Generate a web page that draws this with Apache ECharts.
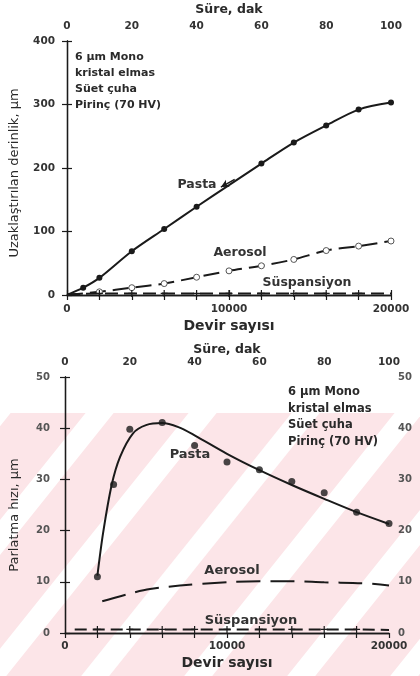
<!DOCTYPE html>
<html><head><meta charset="utf-8">
<script src="https://cdn.jsdelivr.net/npm/echarts@6/dist/echarts.min.js"></script>
<style>
html,body{margin:0;padding:0;background:#fff;}
#bg{position:absolute;left:0;top:0;}
#chart{position:absolute;left:0;top:0;width:420px;height:676px;}
</style>
</head><body>
<canvas id="bg" width="420" height="676"></canvas>
<div id="chart"></div>
<script>
// ---------- DATA ----------
// Top chart: removed depth (µm) vs. revolutions
const depthPasta   = [[0,0],[1000,11.5],[2000,27],[4000,69],[6000,104],[8000,139],[10000,173],[12000,207],[14000,240],[16000,267],[18000,292],[20000,303]];
const depthAerosol = [[0,0],[2000,5],[4000,11.5],[6000,18],[8000,28],[10000,38],[12000,46],[14000,56],[16000,70],[18000,77],[20000,85]];
const depthSusp    = [[0,1],[2000,2.5],[4000,2.5],[6000,2.5],[8000,2.5],[10000,2.5],[12000,2.5],[14000,2.5],[16000,2.5],[18000,2.5],[20000,2.5]];
// Bottom chart: polishing rate (µm) vs. revolutions
const ratePastaPts   = [[2000,11],[3000,29],[4000,39.8],[6000,41.1],[8000,36.6],[10000,33.4],[12000,31.9],[14000,29.6],[16000,27.4],[18000,23.6],[20000,21.4]];
const ratePastaCurve = [[2000,11.2],[2350,19.5],[2880,28.9],[3400,34.4],[4200,39],[5000,40.6],[6000,41],[7000,40.2],[8000,38.6],[10000,35],[12000,31.8],[14000,28.9],[16000,26.2],[18000,23.6],[20000,21.3]];
const rateAerosol    = [[2300,6.2],[4000,7.7],[5250,8.6],[8500,9.6],[12000,10.1],[14000,10.1],[16000,9.9],[18600,9.7],[20000,9.3]];
const rateSusp       = [[600,0.7],[2000,0.7],[4000,0.7],[6000,0.7],[8000,0.7],[10000,0.7],[12000,0.7],[14000,0.7],[16000,0.7],[18000,0.7],[20000,0.6]];
// Axis ticks / labels
const revTicks = [0, 10000, 20000];
const timeTicks = [0, 20, 40, 60, 80, 100];
const depthTicks = [0, 100, 200, 300, 400];
const rateTicks = [0, 10, 20, 30, 40, 50];
const noteLines = ['6 µm Mono', 'kristal elmas', 'Süet çuha', 'Pirinç (70 HV)'];

// ---------- background stripes (scan watermark) ----------
(function(){
  const c = document.getElementById('bg').getContext('2d');
  const y0 = 413, y1 = 676;
  c.fillStyle = '#fce5e8';
  c.fillRect(0, y0, 420, y1 - y0);
  c.fillStyle = '#ffffff';
  const slope = 0.8, period = 103, w = 28, refX = 150, refY = 590;
  for (let k = -6; k < 10; k++) {
    const xa = refX + k*period;
    const xt = xa + slope*(refY - y0);
    const xb = xa - slope*(y1 - refY);
    c.beginPath();
    c.moveTo(xt, y0); c.lineTo(xt + w, y0); c.lineTo(xb + w, y1); c.lineTo(xb, y1); c.closePath();
    c.fill();
  }
})();

// ---------- CHART ----------
const FONT = 'DejaVu Sans';
const ink = '#1a1a1a';
const txt = '#2a2a2a';
const chart = echarts.init(document.getElementById('chart'), null, {renderer:'canvas'});

const axLine = {show:true, lineStyle:{color:ink, width:1.3}};
const tickIn = {show:true, inside:true, length:5, lineStyle:{color:ink, width:1.2}};
const lbl = (extra) => Object.assign({fontFamily:FONT, fontWeight:'bold', fontSize:10.5, color:'#333'}, extra||{});

function plusSymbol(){ return 'path://M5,0L5,10M0,5L10,5'; }

const option = {
  animation:false,
  backgroundColor:'transparent',
  grid:[
    {left:67, top:41, width:324, height:254},
    {left:65, top:377, width:324, height:256}
  ],
  xAxis:[
    {gridIndex:0, type:'value', position:'bottom', min:0, max:20000, interval:10000,
     axisLine:axLine, axisTick:tickIn, splitLine:{show:false},
     axisLabel:lbl({margin:9, formatter:v=>revTicks.includes(v)?String(v):''}),
     name:'Devir sayısı', nameLocation:'middle', nameGap:24,
     nameTextStyle:{fontFamily:FONT, fontWeight:'bold', fontSize:14, color:txt}},
    {gridIndex:0, type:'value', position:'top', min:0, max:100, interval:10,
     axisLine:axLine, axisTick:tickIn, splitLine:{show:false},
     axisLabel:lbl({margin:9, formatter:v=>timeTicks.includes(v)?String(v):''}),
     name:'Süre, dak', nameLocation:'middle', nameGap:25,
     nameTextStyle:{fontFamily:FONT, fontWeight:'bold', fontSize:12.5, color:txt}},
    {gridIndex:1, type:'value', position:'bottom', min:0, max:20000, interval:10000,
     axisLine:axLine, axisTick:{show:false}, splitLine:{show:false},
     axisLabel:lbl({margin:8, formatter:v=>revTicks.includes(v)?String(v):''}),
     name:'Devir sayısı', nameLocation:'middle', nameGap:23,
     nameTextStyle:{fontFamily:FONT, fontWeight:'bold', fontSize:14, color:txt}},
    {gridIndex:1, type:'value', position:'top', min:0, max:100, interval:10,
     axisLine:axLine, axisTick:tickIn, splitLine:{show:false},
     axisLabel:lbl({margin:9, formatter:v=>timeTicks.includes(v)?String(v):''}),
     name:'Süre, dak', nameLocation:'middle', nameGap:21,
     nameTextStyle:{fontFamily:FONT, fontWeight:'bold', fontSize:12.5, color:txt}}
  ],
  yAxis:[
    {gridIndex:0, type:'value', position:'left', min:0, max:400, interval:100,
     axisLine:axLine, axisTick:tickIn, splitLine:{show:false},
     axisLabel:lbl({margin:12, formatter:v=>depthTicks.includes(v)?String(v):''}),
     name:'Uzaklaştırılan derinlik, µm', nameLocation:'middle', nameGap:46,
     nameTextStyle:{fontFamily:FONT, fontSize:13, color:txt, padding:[0,10,0,0]}},
    {gridIndex:0, type:'value', position:'right', min:0, max:400, interval:100,
     axisLine:axLine, axisTick:tickIn, splitLine:{show:false}, axisLabel:{show:false}},
    {gridIndex:1, type:'value', position:'left', min:0, max:50, interval:10,
     axisLine:axLine, axisTick:tickIn, splitLine:{show:false},
     axisLabel:lbl({margin:15, fontSize:10, color:'#555', formatter:v=>rateTicks.includes(v)?String(v):''}),
     name:'Parlatma hızı, µm', nameLocation:'middle', nameGap:44,
     nameTextStyle:{fontFamily:FONT, fontSize:13, color:txt, padding:[0,20,0,0]}},
    {gridIndex:1, type:'value', position:'right', min:0, max:50, interval:10,
     axisLine:axLine, axisTick:tickIn, splitLine:{show:false},
     axisLabel:lbl({margin:9, fontSize:10, color:'#555', formatter:v=>rateTicks.includes(v)?String(v):''})}
  ],
  series:[
    {name:'Pasta', type:'line', xAxisIndex:0, yAxisIndex:0, smooth:0.3,
     data:depthPasta.map((p,i)=> (i===0||p[0]===10000) ? {value:p, symbol:'none'} : p),
     symbol:'circle', symbolSize:6, showSymbol:true,
     itemStyle:{color:ink}, lineStyle:{color:ink, width:2},
     markLine:{silent:true, symbol:['none','arrow'], symbolSize:[6,8], label:{show:false},
       lineStyle:{color:ink, width:1.5, type:'solid'},
       data:[[{coord:[10350,182]},{coord:[9500,170]}]]}},
    {name:'Aerosol', type:'line', xAxisIndex:0, yAxisIndex:0, smooth:0.3,
     data:depthAerosol.map((p,i)=> i===0 ? {value:p, symbol:'none'} : p),
     symbol:'circle', symbolSize:6,
     itemStyle:{color:'#fff', borderColor:'#555', borderWidth:1},
     lineStyle:{color:ink, width:2, type:[16,7]}},
    {name:'Süspansiyon', type:'line', xAxisIndex:0, yAxisIndex:0,
     data:depthSusp.map((p,i)=> (i===0||i===depthSusp.length-1) ? {value:p, symbol:'none'} : p),
     symbol:plusSymbol(), symbolSize:7,
     itemStyle:{color:ink, borderColor:ink, borderWidth:1.2},
     lineStyle:{color:ink, width:2, type:[13,6]}},

    {name:'Pasta eğri', type:'line', xAxisIndex:2, yAxisIndex:2, smooth:0.3, showSymbol:false,
     data:ratePastaCurve, lineStyle:{color:ink, width:2}},
    {name:'Pasta', type:'scatter', xAxisIndex:2, yAxisIndex:2,
     data:ratePastaPts, symbol:'circle', symbolSize:7, itemStyle:{color:ink}},
    {name:'Aerosol', type:'line', xAxisIndex:2, yAxisIndex:2, smooth:0.35, showSymbol:false,
     data:rateAerosol, lineStyle:{color:ink, width:2, type:[24,10]}},
    {name:'Süspansiyon', type:'line', xAxisIndex:2, yAxisIndex:2,
     data:rateSusp.map((p,i)=> (i===0||i===rateSusp.length-1) ? {value:p, symbol:'none'} : p),
     symbol:plusSymbol(), symbolSize:7,
     itemStyle:{color:ink, borderColor:ink, borderWidth:1.2},
     lineStyle:{color:ink, width:2, type:[12,6]}}
  ],
  graphic:[
    {type:'text', left:75, top:49, style:{text:noteLines.join('\n'), fontFamily:FONT, fontWeight:'bold', fontSize:11, lineHeight:16, fill:txt}},
    {type:'text', left:288, top:384, style:{text:noteLines.join('\n'), fontFamily:FONT, fontWeight:'bold', fontSize:11.5, lineHeight:16.6, fill:txt}},
    {type:'text', x:197, y:185, style:{text:'Pasta', fontFamily:FONT, fontWeight:'bold', fontSize:12.5, fill:'#333', align:'center', verticalAlign:'middle'}},
    {type:'text', x:240, y:253, style:{text:'Aerosol', fontFamily:FONT, fontWeight:'bold', fontSize:12.5, fill:'#333', align:'center', verticalAlign:'middle'}},
    {type:'text', x:307, y:283, style:{text:'Süspansiyon', fontFamily:FONT, fontWeight:'bold', fontSize:12.5, fill:'#333', align:'center', verticalAlign:'middle'}},
    {type:'text', x:190, y:455, style:{text:'Pasta', fontFamily:FONT, fontWeight:'bold', fontSize:13, fill:'#333', align:'center', verticalAlign:'middle'}},
    {type:'text', x:232, y:571, style:{text:'Aerosol', fontFamily:FONT, fontWeight:'bold', fontSize:13, fill:'#333', align:'center', verticalAlign:'middle'}},
    {type:'text', x:251, y:621, style:{text:'Süspansiyon', fontFamily:FONT, fontWeight:'bold', fontSize:13, fill:'#333', align:'center', verticalAlign:'middle'}}
  ]
};
chart.setOption(option);
</script>
</body></html>
